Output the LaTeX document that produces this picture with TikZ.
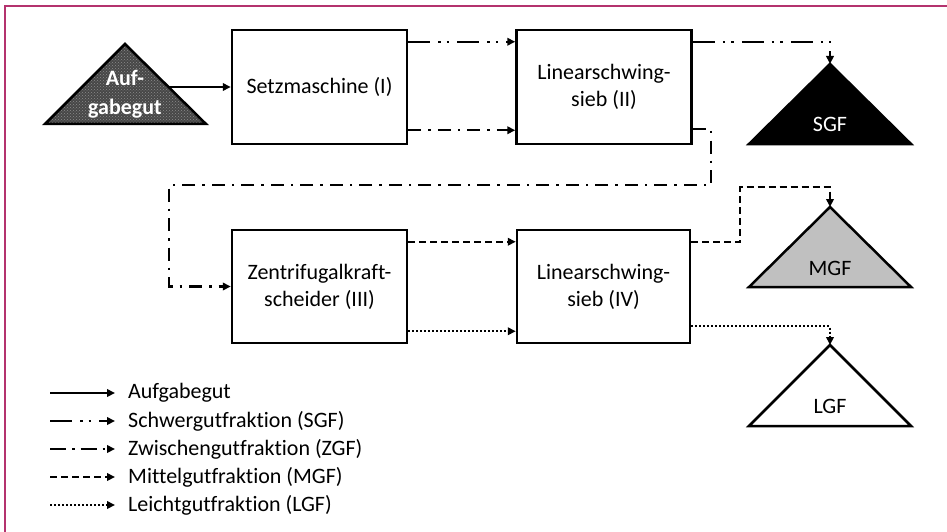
\documentclass[tikz,border=0pt]{standalone}
\usepackage{fontspec}
\setmainfont{Carlito}[Ligatures=NoCommon]
\usetikzlibrary{arrows.meta,patterns,calc}
\definecolor{framec}{RGB}{180,50,110}
\definecolor{mgfgray}{RGB}{192,192,192}
\tikzset{
  proc/.style={draw, line width=2.5pt, minimum width=175pt, minimum height=114pt,
    align=center, inner sep=2pt, font=\fontsize{22}{27}\selectfont},
  flow/.style={line width=2.4pt, -{Triangle[length=8pt,width=7.5pt]}},
  sgfl/.style={flow, dash pattern=on 22pt off 8pt on 2.5pt off 6pt on 2.5pt off 8pt},
  zgfl/.style={flow, dash pattern=on 13pt off 7pt on 2.5pt off 7pt},
  mgfl/.style={flow, dash pattern=on 7pt off 4pt},
  lgfl/.style={flow, dash pattern=on 2pt off 2pt},
  tri/.style={line width=2.5pt, line join=miter},
  lbl/.style={font=\fontsize{22}{27}\selectfont, inner sep=0pt, align=center},
  leg/.style={font=\fontsize{22}{27}\selectfont, inner sep=0pt, anchor=west},
}
\begin{document}
\begin{tikzpicture}[x=1pt,y=-1pt]
\useasboundingbox (0,0) rectangle (947,532);
% frame
\draw[framec, line width=2pt] (5,532) -- (5,6) -- (947,6);

% feed triangle
\fill[black!72] (125,44) -- (206,124) -- (45,124) -- cycle;
\fill[pattern=crosshatch dots, pattern color=black!45] (125,44) -- (206,124) -- (45,124) -- cycle;
\draw[tri] (125,44) -- (206,124) -- (45,124) -- cycle;
\node[lbl, text=white, font=\bfseries\fontsize{22}{29}\selectfont] (auf) at (125,94) {Auf-\\gabegut};
\coordinate (aufout) at (169,87);

% product triangles
\draw[tri, fill=black] (830,64) -- (911,144) -- (749,144) -- cycle;
\node[lbl, text=white] (sgf) at (830,124) {SGF};
\coordinate (sgftop) at (830,64);

\draw[tri, fill=mgfgray] (830,207) -- (911,287) -- (749,287) -- cycle;
\node[lbl] (mgf) at (830,268) {MGF};
\coordinate (mgftop) at (830,207);

\draw[tri, fill=white] (830,345) -- (911,426) -- (749,426) -- cycle;
\node[lbl] (lgf) at (830,406) {LGF};
\coordinate (lgftop) at (830,345);

% process boxes
\node[proc] (S)  at (319.5,87)    {Setzmaschine (I)};
\node[proc] (L2) at (604,87)      {Linearschwing-\\sieb (II)};
\node[proc, minimum height=113pt] (Z)  at (319.5,286.5) {Zentrifugalkraft-\\scheider (III)};
\node[proc, minimum height=113pt, minimum width=173pt] (L4) at (603.5,286.5) {Linearschwing-\\sieb (IV)};

% connectors
\draw[flow] (aufout) -- (S.west);
\draw[sgfl] ($(S.north east)+(0,13)$) -- ($(L2.north west)+(0,13)$);
\draw[zgfl] ($(S.south east)+(0,-15)$) -- ($(L2.south west)+(0,-15)$);
\draw[sgfl] ($(L2.north east)+(0,13)$) -| (sgftop);
\coordinate (z1) at (711,185);
\coordinate (z2) at (169,185);
\draw[zgfl] ($(L2.south east)+(0,-16)$) -| (z1) -- (z2) |- (Z.west);
\draw[mgfl] ($(Z.north east)+(0,13)$) -- ($(L4.north west)+(0,13)$);
\draw[lgfl] ($(Z.south east)+(0,-13)$) -- ($(L4.south west)+(0,-13)$);
\coordinate (m1) at (740,187);
\draw[mgfl] ($(L4.north east)+(0,13)$) -| (m1) -| (mgftop);
\draw[lgfl] ($(L4.south east)+(0,-18)$) -| (lgftop);

% legend
\coordinate (a0) at (50,393); \coordinate (a1) at (115,393);
\coordinate (b0) at (50,421); \coordinate (b1) at (115,421);
\coordinate (c0) at (50,449); \coordinate (c1) at (115,449);
\coordinate (d0) at (50,477); \coordinate (d1) at (115,477);
\coordinate (e0) at (50,505); \coordinate (e1) at (115,505);
\draw[flow] (a0) -- (a1);
\draw[sgfl] (b0) -- (b1);
\draw[flow, dash pattern=on 16pt off 6pt on 2.5pt off 6pt] (c0) -- (c1);
\draw[mgfl] (d0) -- (d1);
\draw[lgfl] (e0) -- (e1);
\node[leg] (la) at (128,393) {Aufgabegut};
\node[leg] (lb) at (128,421) {Schwergutfraktion (SGF)};
\node[leg] (lc) at (128,449) {Zwischengutfraktion (ZGF)};
\node[leg] (ld) at (128,477) {Mittelgutfraktion (MGF)};
\node[leg] (le) at (128,505) {Leichtgutfraktion (LGF)};
\end{tikzpicture}
\end{document}
